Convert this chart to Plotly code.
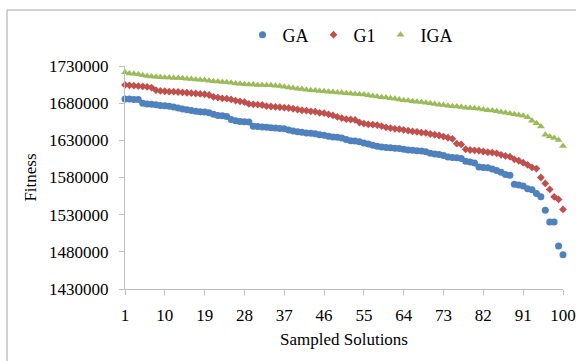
import plotly.graph_objects as go

# Sampled solution index (1..100)
solutions = list(range(1, 101))

ga = [
    1685500, 1685500, 1685000, 1685000, 1680000, 1679000, 1678500, 1678000, 1677000, 1676500,
    1676000, 1675000, 1673500, 1672000, 1671000, 1670000, 1669000, 1668500, 1668000, 1667000,
    1665000, 1663500, 1663000, 1662000, 1658000, 1656500, 1655500, 1655000, 1654500, 1649000,
    1648500, 1648000, 1647500, 1647000, 1646500, 1646000, 1645500, 1644000, 1642500, 1641500,
    1641000, 1640000, 1639500, 1639000, 1637500, 1637000, 1635500, 1634500, 1634000, 1633000,
    1631000, 1629500, 1629000, 1628000, 1626500, 1625000, 1623500, 1622000, 1621000, 1620500,
    1620000, 1619500, 1619000, 1618000, 1617000, 1616500, 1616000, 1615500, 1614500, 1612500,
    1611500, 1611000, 1609500, 1607500, 1607000, 1606500, 1605500, 1602000, 1601000, 1599500,
    1594000, 1593500, 1593000, 1591500, 1589500, 1587000, 1584000, 1583000, 1571000, 1570000,
    1568500, 1565000, 1563500, 1558500, 1554000, 1536000, 1520000, 1520000, 1488000, 1476000,
]

g1 = [
    1704500, 1704000, 1703500, 1703000, 1702500, 1702000, 1701000, 1697500, 1696500, 1696000,
    1695500, 1695500, 1695000, 1694500, 1694000, 1693500, 1693000, 1692500, 1692000, 1691000,
    1688500, 1687500, 1686500, 1686000, 1685000, 1683500, 1682500, 1681500, 1679000, 1678500,
    1678000, 1677500, 1676000, 1675500, 1675000, 1674500, 1674000, 1673500, 1672500, 1671500,
    1670500, 1670000, 1669000, 1668500, 1667000, 1666500, 1665000, 1663500, 1661500, 1660000,
    1658500, 1658000, 1657500, 1654000, 1652500, 1651500, 1651000, 1650500, 1649000, 1647500,
    1646500, 1645500, 1645000, 1644000, 1643000, 1642000, 1641500, 1640500, 1640000, 1638500,
    1637500, 1636500, 1635000, 1633500, 1632000, 1625500, 1624500, 1618000, 1617000, 1616500,
    1616000, 1615000, 1614000, 1613500, 1612500, 1610500, 1609000, 1608000, 1604500, 1602500,
    1600000, 1597000, 1593500, 1592000, 1580000, 1572000, 1564000, 1554000, 1550500, 1537000,
]

iga = [
    1721500, 1720000, 1719500, 1719000, 1717500, 1716500, 1716000, 1715500, 1715000, 1714500,
    1714500, 1714000, 1714000, 1713500, 1713000, 1712500, 1712000, 1711500, 1711000, 1710000,
    1709500, 1709000, 1708500, 1708000, 1707500, 1706500, 1706000, 1705500, 1705000, 1705000,
    1704500, 1704500, 1704000, 1704000, 1703500, 1703000, 1702000, 1701000, 1700500, 1699500,
    1699000, 1698000, 1697500, 1697000, 1696500, 1696000, 1695500, 1695000, 1694500, 1694000,
    1693500, 1693000, 1692500, 1692000, 1691500, 1690500, 1689500, 1689000, 1688000, 1687500,
    1686500, 1686000, 1685000, 1684000, 1683500, 1682500, 1682000, 1681500, 1680500, 1680000,
    1679000, 1678000, 1677500, 1676500, 1676000, 1675500, 1675000, 1674000, 1673500, 1673000,
    1672500, 1671500, 1670500, 1670000, 1669000, 1668000, 1667000, 1666000, 1665000, 1664000,
    1663000, 1661000, 1656500, 1653000, 1648500, 1637500, 1635000, 1633000, 1630500, 1622500,
]

x_ticks = list(range(1, 101, 9))
y_ticks = list(range(1430000, 1730001, 50000))

W, H = 576, 361
L, R, T, B = 125, 13, 66, 72
plot_w = W - L - R
plot_h = H - T - B

FONT = "Liberation Serif"
AXIS_GRAY = "#BFBFBF"

fig = go.Figure()
series = [
    ("GA", ga, "#4F81BD", "circle", 7),
    ("G1", g1, "#C0504D", "diamond", 6),
    ("IGA", iga, "#9BBB59", "triangle-up", 7),
]
for name, vals, color, symbol, size in series:
    fig.add_trace(go.Scatter(
        x=solutions, y=vals, name=name, mode="markers",
        marker=dict(color=color, symbol=symbol, size=size, line=dict(width=0)),
        cliponaxis=False,
    ))


def px_x(px):
    return (px - L) / plot_w


def px_y(py):
    return (H - B - py) / plot_h


# Outer chart frame
fig.add_shape(type="rect", xref="paper", yref="paper",
              x0=px_x(7), x1=px_x(600), y0=px_y(380), y1=px_y(10),
              line=dict(color="#A6A6A6", width=1), fillcolor="rgba(0,0,0,0)")

fig.update_layout(
    width=W, height=H,
    margin=dict(l=L, r=R, t=T, b=B, autoexpand=False),
    paper_bgcolor="white", plot_bgcolor="white",
    font=dict(family=FONT, size=17, color="#000000"),
    showlegend=True,
    legend=dict(orientation="h", x=px_x(350), xanchor="center",
                y=px_y(35), yanchor="middle", itemwidth=30,
                font=dict(family=FONT, size=18, color="#000000"),
                bgcolor="rgba(0,0,0,0)", tracegroupgap=0),
    xaxis=dict(
        range=[1, 100], tickvals=x_ticks, ticktext=[str(v) for v in x_ticks],
        showline=True, linecolor=AXIS_GRAY, linewidth=1,
        ticks="outside", ticklen=5, tickcolor=AXIS_GRAY,
        showgrid=False, zeroline=False, ticklabelstandoff=6,
        title=dict(text="Sampled Solutions", standoff=8,
                   font=dict(family=FONT, size=17, color="#000000")),
    ),
    yaxis=dict(
        range=[1430000, 1730000], tickvals=y_ticks,
        ticktext=[str(v) for v in y_ticks],
        showline=True, linecolor=AXIS_GRAY, linewidth=1,
        ticks="outside", ticklen=5, tickcolor=AXIS_GRAY,
        showgrid=False, zeroline=False, ticklabelstandoff=7,
        title=dict(text="Fitness", standoff=8,
                   font=dict(family=FONT, size=17, color="#000000")),
    ),
)

fig.write_html("out.html")
